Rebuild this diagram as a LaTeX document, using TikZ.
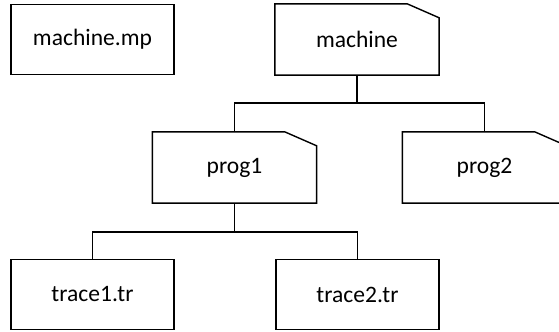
\documentclass[tikz,border=0pt]{standalone}
\usepackage{fontspec}
\setmainfont{Carlito}
\usetikzlibrary{calc}

\tikzset{
  file/.style={draw,line width=0.8pt,minimum width=3.26cm,minimum height=1.4cm,
    inner sep=0pt,font=\fontsize{13.4}{16}\selectfont},
  folder/.style={file,draw=none},
  link/.style={line width=0.8pt}
}

\begin{document}
\begin{tikzpicture}[x=0.02cm,y=-0.02cm]
    \useasboundingbox (0,0) rectangle (559,332);
    % files and folders
    \node[file] (mp) at (92.5,39.5) {machine.mp};
    \node[folder] (machine) at (357,39.5) {machine};
    \node[folder] (prog1) at (234.5,167.5) {prog1};
    \node[folder] (prog2) at (484.5,167.5) {prog2};
    \node[file] (t1) at (92.5,294.5) {trace1.tr};
    \node[file] (t2) at (357.5,294.5) {trace2.tr};
    % folder outlines with the cut corner
    \foreach \n in {machine,prog1,prog2}{
      \draw[link] (\n.north west) -- ([xshift=-0.64cm]\n.north east)
        -- ([yshift=-0.28cm]\n.north east) -- (\n.south east)
        -- (\n.south west) -- cycle;
    }
    % tree links
    \draw[link] (machine.south) -- ++(0,28) coordinate (j1);
    \draw[link] (j1) -| (prog1.north);
    \draw[link] (j1) -| (prog2.north);
    \draw[link] (prog1.south) -- ++(0,29) coordinate (j2);
    \draw[link] (j2) -| (t1.north);
    \draw[link] (j2) -| (t2.north);
\end{tikzpicture}
\end{document}
